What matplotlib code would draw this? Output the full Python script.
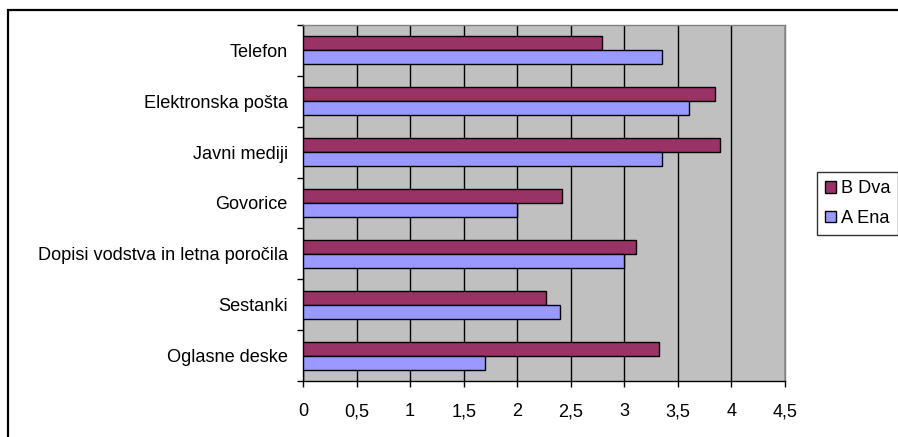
import numpy as np
import matplotlib
import matplotlib.pyplot as plt
from matplotlib.patches import Rectangle

matplotlib.use('Agg')

# Kategorije in povprečne ocene po skupinah
kategorije = ["Telefon", "Elektronska pošta", "Javni mediji", "Govorice",
              "Dopisi vodstva in letna poročila", "Sestanki", "Oglasne deske"]
b_dva = [2.79, 3.85, 3.89, 2.42, 3.11, 2.27, 3.32]
a_ena = [3.35, 3.60, 3.35, 2.00, 3.00, 2.40, 1.70]
x_ticks = np.arange(0, 4.51, 0.5)
x_labels = ["0", "0,5", "1", "1,5", "2", "2,5", "3", "3,5", "4", "4,5"]

plt.rcParams['font.family'] = ['Liberation Sans', 'DejaVu Sans']
FS = 13.1

W, H = 898, 437
fig = plt.figure(figsize=(W / 100, H / 100), dpi=100)
fig.patch.set_facecolor('white')

# Območje grafa v pikslih
left, right, top, bottom = 303, 785, 25, 381
ax = fig.add_axes([left / W, 1 - bottom / H, (right - left) / W, (bottom - top) / H])
ax.set_facecolor('#C0C0C0')

y = np.arange(len(kategorije))
h = 0.275
ax.barh(y - h / 2, b_dva, height=h, color='#993366', edgecolor='black', linewidth=1.0,
        label='B Dva', zorder=3)
ax.barh(y + h / 2, a_ena, height=h, color='#9999FF', edgecolor='black', linewidth=1.0,
        label='A Ena', zorder=3)

ax.set_xlim(0, 4.5)
ax.set_ylim(len(kategorije) - 0.5, -0.5)

ax.set_xticks(x_ticks)
ax.set_xticklabels(x_labels, fontsize=FS)
ax.set_yticks(y)
ax.set_yticklabels(kategorije, fontsize=FS)
ax.set_yticks(np.arange(-0.5, len(kategorije)), minor=True)

ax.tick_params(axis='y', which='major', length=0, pad=11)
ax.tick_params(axis='y', which='minor', length=4, width=1, color='black', direction='out')
ax.tick_params(axis='x', length=4, width=1, color='black', direction='out', pad=12)

ax.grid(axis='x', color='black', linewidth=1.0, zorder=0)
ax.set_axisbelow(True)

for s in ['top', 'right']:
    ax.spines[s].set_color('#808080')
    ax.spines[s].set_linewidth(1.0)
for s in ['left', 'bottom']:
    ax.spines[s].set_color('black')
    ax.spines[s].set_linewidth(1.0)

# Legenda desno (B zgoraj)
handles, labels = ax.get_legend_handles_labels()
leg = fig.legend(handles, labels, loc='upper left',
                 bbox_to_anchor=(817 / W, 1 - 172 / H), borderaxespad=0,
                 fontsize=FS, frameon=True, fancybox=False, handlelength=0.6,
                 handleheight=0.6, handletextpad=0.25, labelspacing=0.7,
                 borderpad=0.45)
leg.get_frame().set_edgecolor('black')
leg.get_frame().set_linewidth(1.0)

# Zunanji okvir grafikona
fig.patches.append(Rectangle((8 / W, -0.1), 1.2, 1 - 10 / H + 0.1,
                             transform=fig.transFigure, fill=False,
                             edgecolor='black', linewidth=1.6, clip_on=False))

fig.savefig('out.png', dpi=100)
